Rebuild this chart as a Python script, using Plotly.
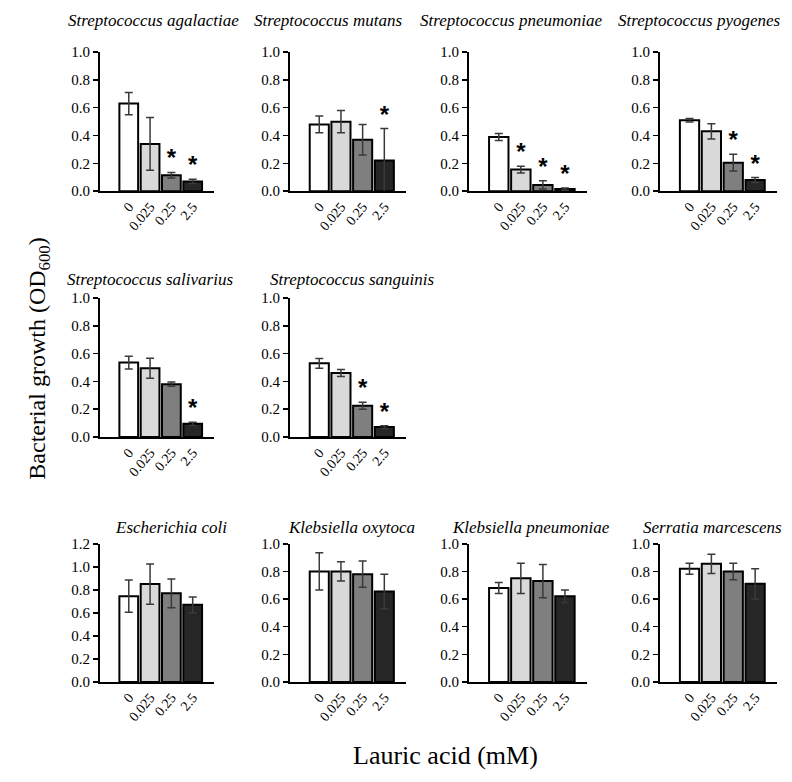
import plotly.graph_objects as go

W, H = 792, 782

categories = ["0", "0.025", "0.25", "2.5"]
bar_colors = ["#ffffff", "#d9d9d9", "#7f7f7f", "#262626"]

species = [
    "Streptococcus agalactiae", "Streptococcus mutans", "Streptococcus pneumoniae",
    "Streptococcus pyogenes", "Streptococcus salivarius", "Streptococcus sanguinis",
    "Escherichia coli", "Klebsiella oxytoca", "Klebsiella pneumoniae", "Serratia marcescens",
]

agalactiae = [0.63, 0.34, 0.115, 0.07]
agalactiae_err = [0.08, 0.19, 0.02, 0.015]
mutans = [0.48, 0.50, 0.37, 0.22]
mutans_err = [0.06, 0.08, 0.11, 0.23]
pneumoniae = [0.39, 0.155, 0.045, 0.015]
pneumoniae_err = [0.025, 0.025, 0.03, 0.008]
pyogenes = [0.51, 0.43, 0.205, 0.08]
pyogenes_err = [0.012, 0.055, 0.06, 0.018]
salivarius = [0.535, 0.495, 0.38, 0.095]
salivarius_err = [0.045, 0.072, 0.015, 0.012]
sanguinis = [0.53, 0.46, 0.225, 0.072]
sanguinis_err = [0.035, 0.025, 0.025, 0.01]
ecoli = [0.745, 0.85, 0.77, 0.67]
ecoli_err = [0.14, 0.175, 0.125, 0.068]
oxytoca = [0.80, 0.80, 0.78, 0.655]
oxytoca_err = [0.135, 0.07, 0.095, 0.125]
kpneumoniae = [0.68, 0.75, 0.73, 0.62]
kpneumoniae_err = [0.04, 0.11, 0.12, 0.045]
serratia = [0.82, 0.855, 0.80, 0.71]
serratia_err = [0.04, 0.07, 0.06, 0.11]

# significance markers (True = asterisk)
agalactiae_sig = [False, False, True, True]
mutans_sig = [False, False, False, True]
pneumoniae_sig = [False, True, True, True]
pyogenes_sig = [False, False, True, True]
salivarius_sig = [False, False, False, True]
sanguinis_sig = [False, False, True, True]
none_sig = [False, False, False, False]

values = [agalactiae, mutans, pneumoniae, pyogenes, salivarius, sanguinis,
          ecoli, oxytoca, kpneumoniae, serratia]
errors = [agalactiae_err, mutans_err, pneumoniae_err, pyogenes_err, salivarius_err,
          sanguinis_err, ecoli_err, oxytoca_err, kpneumoniae_err, serratia_err]
sigs = [agalactiae_sig, mutans_sig, pneumoniae_sig, pyogenes_sig, salivarius_sig,
        sanguinis_sig, none_sig, none_sig, none_sig, none_sig]
ymax = [1.0] * 6 + [1.2, 1.0, 1.0, 1.0]

# layout (pixels)
col_px = [(100, 214), (290, 406), (469, 587), (660, 777)]
row_px = [(45, 187), (296, 438), (547, 688)]
positions = [(0, 0), (0, 1), (0, 2), (0, 3), (1, 0), (1, 1), (2, 0), (2, 1), (2, 2), (2, 3)]
title_pos = [(153, 13), (328, 13), (511, 13), (699, 13),
             (150, 277), (352, 277),
             (171, 530), (351, 530), (531, 530), (712, 530)]

SERIF = "Liberation Serif, Times New Roman, serif"

fig = go.Figure()
layout = dict(
    width=W, height=H, margin=dict(l=0, r=0, t=0, b=0),
    paper_bgcolor="white", plot_bgcolor="white", showlegend=False,
    bargap=0.1, annotations=[],
)

for i, (vals, errs, sig) in enumerate(zip(values, errors, sigs)):
    n = i + 1
    xa = "x" if n == 1 else f"x{n}"
    ya = "y" if n == 1 else f"y{n}"
    fig.add_trace(go.Bar(
        x=categories, y=vals, xaxis=xa, yaxis=ya,
        marker=dict(color=bar_colors, line=dict(color="black", width=2)),
        width=0.88,
        error_y=dict(type="data", array=errs, color="#3a3a3a", thickness=1.5, width=4),
        hoverinfo="skip",
    ))
    sx = [c for c, s in zip(categories, sig) if s]
    sy = [v + e for v, e, s in zip(vals, errs, sig) if s]
    if sx:
        fig.add_trace(go.Scatter(
            x=sx, y=sy, xaxis=xa, yaxis=ya, mode="text", text=["*"] * len(sx),
            textposition="top center",
            textfont=dict(family="Liberation Sans, Arial", size=24, color="black",
                          weight="bold"),
            hoverinfo="skip",
        ))
    r, c = positions[i]
    x0, x1 = col_px[c]
    y0, y1 = row_px[r]
    kx = "xaxis" if n == 1 else f"xaxis{n}"
    ky = "yaxis" if n == 1 else f"yaxis{n}"
    layout[kx] = dict(
        domain=[x0 / W, x1 / W], anchor=ya, type="category",
        range=[-1.35, 4.0], showline=True, linecolor="black", linewidth=2,
        showgrid=False, ticks="", tickangle=-50,
        tickfont=dict(family=SERIF, size=14, color="black"), fixedrange=True,
    )
    layout[ky] = dict(
        domain=[1 - y1 / H, 1 - y0 / H], anchor=xa,
        range=[0, ymax[i]], dtick=0.2, tickformat=".1f",
        showline=True, linecolor="black", linewidth=2, showgrid=False, zeroline=False,
        ticks="outside", ticklen=5, tickwidth=1.5, tickcolor="black",
        tickfont=dict(family=SERIF, size=15, color="black"), fixedrange=True,
    )
    tx, ty = title_pos[i]
    layout["annotations"].append(dict(
        text=f"<i>{species[i]}</i>", x=tx / W, y=1 - ty / H, xref="paper", yref="paper",
        showarrow=False, xanchor="center", yanchor="middle",
        font=dict(family=SERIF, size=17, color="black"),
    ))

layout["annotations"].append(dict(
    text="Bacterial growth (OD<sub>600</sub>)", x=39 / W, y=1 - 358 / H,
    xref="paper", yref="paper", showarrow=False, textangle=-90,
    xanchor="center", yanchor="middle",
    font=dict(family=SERIF, size=24, color="black"),
))
layout["annotations"].append(dict(
    text="Lauric acid (mM)", x=445 / W, y=1 - 763 / H,
    xref="paper", yref="paper", showarrow=False,
    xanchor="center", yanchor="middle",
    font=dict(family=SERIF, size=26, color="black"),
))

fig.update_layout(**layout)
fig.write_html(
    "out.html",
    config={"displayModeBar": False, "staticPlot": True},
    post_script="document.body.style.margin='0px';document.body.style.overflow='hidden';",
)
